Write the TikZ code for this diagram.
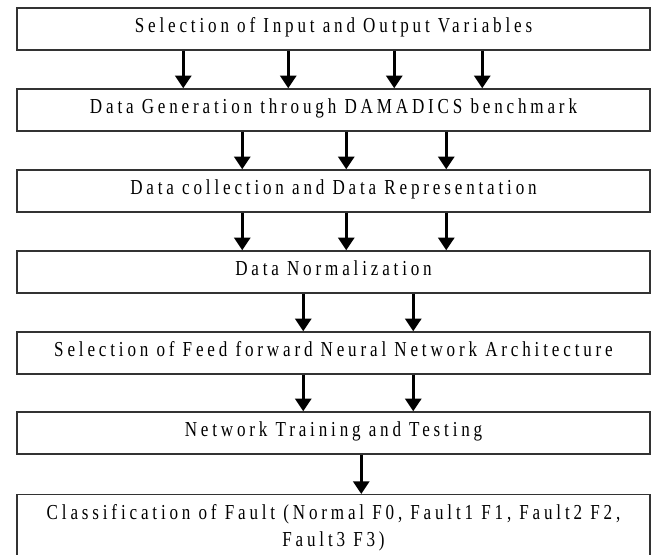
\documentclass[tikz,border=0pt]{standalone}
\usepackage{fontspec}
\setmainfont{Liberation Serif}[FakeStretch=0.8,LetterSpace=18]
\usetikzlibrary{arrows.meta,calc}

\begin{document}
\begin{tikzpicture}[x=0.75pt,y=-0.75pt,
    stage/.style={draw=black!80,line width=1.1pt,minimum width=474.75pt,
      minimum height=31.5pt,inner sep=0pt,text height=0.72em,text depth=0.22em,
      font=\fontsize{16}{20.25}\selectfont},
    stagetext/.style={align=center,inner sep=0pt,font=\fontsize{16}{20.25}\selectfont},
    link/.style={line width=2.2pt,-{Triangle[width=12pt,length=9.5pt]}}]
  \useasboundingbox (0,0) rectangle (654,554);
  \clip (0,0) rectangle (654,554);

  \node[stage] (sel) at (333.5,29) {Selection of Input and Output Variables};
  \node[stage] (gen) at (333.5,110) {Data Generation through DAMADICS benchmark};
  \node[stage] (col) at (333.5,191) {Data collection and Data Representation};
  \node[stage] (nor) at (333.5,272) {Data Normalization};
  \node[stage] (arc) at (333.5,353) {Selection of Feed forward Neural Network Architecture};
  \node[stage] (trn) at (333.5,433) {Network Training and Testing};
  % last box runs off the bottom edge
  \node[stage,anchor=north,minimum height=90pt] (cls) at (333.5,494) {};
  \node[stagetext] (clstext) at (333.5,528)
    {Classification of Fault (Normal F0, Fault1 F1, Fault2 F2,\\ Fault3 F3)};

  \foreach \x in {184,289,395,483}
    \draw[link] ($(sel.south west)+(\x-17,0)$) -- ($(gen.north west)+(\x-17,0)$);
  \foreach \x in {243,347,447} {
    \draw[link] ($(gen.south west)+(\x-17,0)$) -- ($(col.north west)+(\x-17,0)$);
    \draw[link] ($(col.south west)+(\x-17,0)$) -- ($(nor.north west)+(\x-17,0)$);
  }
  \foreach \x in {304,414} {
    \draw[link] ($(nor.south west)+(\x-17,0)$) -- ($(arc.north west)+(\x-17,0)$);
    \draw[link] ($(arc.south west)+(\x-17,0)$) -- ($(trn.north west)+(\x-17,0)$);
  }
  \draw[link] ($(trn.south west)+(345,0)$) -- ($(cls.north west)+(345,0)$);
\end{tikzpicture}
\end{document}
